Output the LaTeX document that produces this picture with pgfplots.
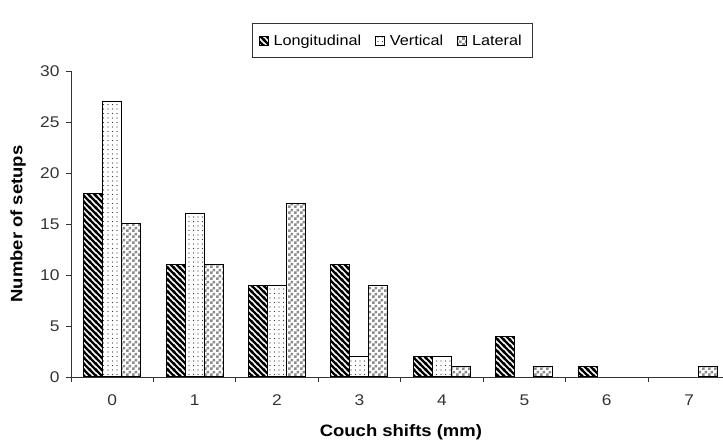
\documentclass[border=0pt]{standalone}
\usepackage{pgfplots}
\pgfplotsset{compat=1.18}
\usepackage{fontspec}
\setmainfont[FakeStretch=1.12]{Liberation Sans}
\usetikzlibrary{patterns}
\pgfdeclarepatternformonly{mystripes}{\pgfpoint{-1pt}{-1pt}}{\pgfpoint{7pt}{7pt}}{\pgfpoint{6pt}{6pt}}{%
  \pgfsetlinewidth{2.3pt}%
  \pgfpathmoveto{\pgfpoint{-1pt}{7pt}}\pgfpathlineto{\pgfpoint{7pt}{-1pt}}%
  \pgfpathmoveto{\pgfpoint{-1pt}{1pt}}\pgfpathlineto{\pgfpoint{1pt}{-1pt}}%
  \pgfpathmoveto{\pgfpoint{5pt}{7pt}}\pgfpathlineto{\pgfpoint{7pt}{5pt}}%
  \pgfusepath{stroke}}
\pgfdeclarepatternformonly{mydots}{\pgfpoint{-1pt}{-1pt}}{\pgfpoint{1pt}{1pt}}{\pgfpoint{4.5pt}{4.5pt}}{%
  \pgfpathcircle{\pgfpointorigin}{0.55pt}\pgfusepath{fill}}
\pgfdeclarepatternformonly{mycheck}{\pgfpointorigin}{\pgfpoint{6pt}{6pt}}{\pgfpoint{6pt}{6pt}}{%
  \pgfpathrectangle{\pgfpointorigin}{\pgfpoint{3pt}{3pt}}%
  \pgfpathrectangle{\pgfpoint{3pt}{3pt}}{\pgfpoint{3pt}{3pt}}%
  \pgfusepath{fill}}
\begin{document}
\begin{tikzpicture}
\path[use as bounding box] (0,0) rectangle (723pt,442pt);
\begin{axis}[
  at={(71pt,65pt)}, anchor=south west,
  scale only axis, width=652pt, height=306pt,
  xmin=-0.5, xmax=7.41, ymin=0, ymax=30,
  axis x line=bottom, axis y line=left,
  axis line style={-, line width=0.8pt, black!80},
  ybar=0pt, bar width=19pt,
  xtick={0,...,7},
  minor xtick={-0.5,0.5,...,6.5},
  every major x tick/.append style={draw=none},
  ytick={0,5,...,30},
  tick align=outside,
  major tick length=5pt, minor tick length=5pt,
  tick style={line width=0.8pt, black!80},
  tick label style={font=\fontsize{15.5}{18}\selectfont, text=black!80},
  /pgf/number format/assume math mode=true,
  xticklabel style={yshift=-9pt},
  yticklabel style={xshift=-3pt},
  xlabel={Couch shifts (mm)},
  ylabel={Number of setups},
  every axis x label/.style={at={(axis description cs:0.506,-0.18)}, anchor=center,
    font=\bfseries\fontsize{16.5}{19}\selectfont},
  every axis y label/.style={at={(axis description cs:-0.081,0.5)}, rotate=90, anchor=center,
    font=\bfseries\fontsize{16.5}{19}\selectfont},
  legend columns=3,
  legend style={at={(axis description cs:0.4935,1.042)}, anchor=south,
    draw=black!80, line width=0.8pt, font=\fontsize{14.5}{17}\selectfont,
    inner xsep=6pt, inner ysep=9pt,
    nodes={inner xsep=5pt},
    /tikz/every even column/.append style={column sep=9pt}},
  legend image code/.code={\draw[#1, line width=0.8pt] (0pt,-4.5pt) rectangle (9pt,4.5pt);},
]
\addplot[draw=black, line width=1pt, pattern=mystripes, pattern color=black]
  coordinates {(0,18) (1,11) (2,9) (3,11) (4,2) (5,4) (6,1)};
\addplot[draw=black, line width=1pt, fill=white, postaction={pattern=mydots, pattern color=black!80}]
  coordinates {(0,27) (1,16) (2,9) (3,2) (4,2)};
\addplot[draw=black, line width=1pt, fill=white, postaction={pattern=mycheck, pattern color=black!45}]
  coordinates {(0,15) (1,11) (2,17) (3,9) (4,1) (5,1) (7,1)};
\legend{Longitudinal,Vertical,Lateral}
\end{axis}
\end{tikzpicture}
\end{document}
